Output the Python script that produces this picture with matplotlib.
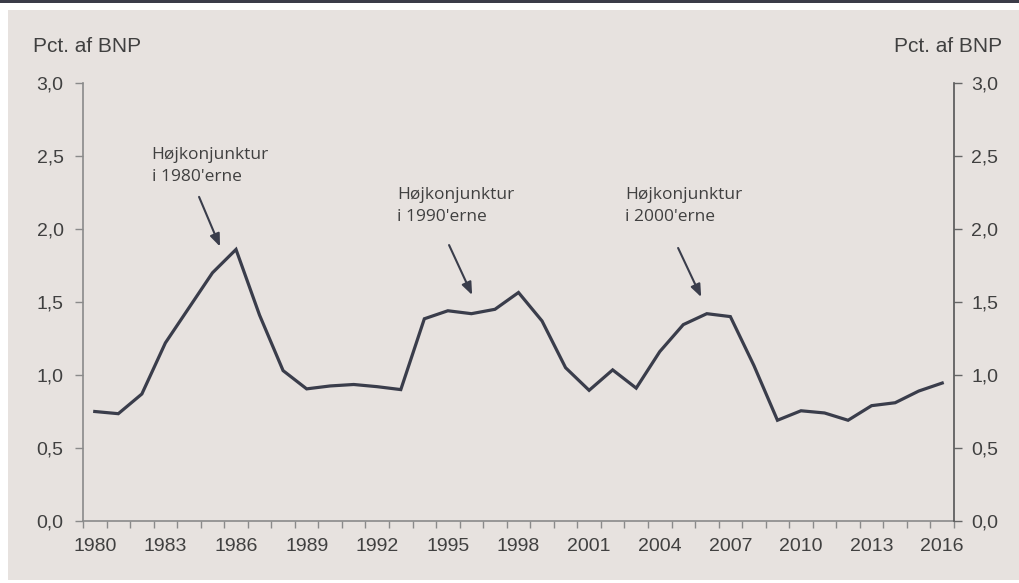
import matplotlib
matplotlib.use("Agg")
import matplotlib.pyplot as plt
from matplotlib.ticker import FixedLocator, NullFormatter, FuncFormatter

# Data: pct. of GDP, 1980-2016
years = list(range(1980, 2017))
values = [0.75, 0.735, 0.87, 1.22, 1.46, 1.70, 1.86, 1.41, 1.03, 0.905, 0.925, 0.935,
          0.92, 0.90, 1.385, 1.44, 1.42, 1.45, 1.565, 1.37, 1.05, 0.895, 1.035, 0.91,
          1.16, 1.345, 1.42, 1.40, 1.065, 0.69, 0.755, 0.74, 0.69, 0.79, 0.81, 0.89, 0.945]
yticks = [0.0, 0.5, 1.0, 1.5, 2.0, 2.5, 3.0]
label_years = list(range(1980, 2017, 3))

annotations = [
    ("Højkonjunktur\ni 1980'erne", 1986),
    ("Højkonjunktur\ni 1990'erne", 1996),
    ("Højkonjunktur\ni 2000'erne", 2006),
]

BG = "#e7e2df"
LINE = "#3a3d4b"
TXT = "#404040"
SPINE = "#8a8a8a"

fig = plt.figure(figsize=(10.2, 5.83), dpi=100)
fig.patch.set_facecolor("white")

# framing: dark top rule and grey panel
fig.add_artist(plt.Rectangle((0, 1 - 3 / 583), 1, 3 / 583, transform=fig.transFigure,
                             color="#3b3c48", lw=0, zorder=0))
fig.add_artist(plt.Rectangle((8 / 1020, 3 / 583), 1 - 8 / 1020, 1 - 13 / 583,
                             transform=fig.transFigure, color=BG, lw=0, zorder=0))

ax = fig.add_axes([83 / 1020, 1 - 521 / 583, (954 - 83) / 1020, (521 - 83) / 583])
ax.set_facecolor("none")

idx = list(range(len(years)))
ax.plot(idx, values, color=LINE, lw=2.3, solid_joinstyle="miter", zorder=3)

ax.set_xlim(-0.5, len(years) - 0.5)
ax.set_ylim(0, 3.0)

TICK_SIZE = 14

# x axis: tick marks at category boundaries, labels at centres
ax.xaxis.set_major_locator(FixedLocator([i - 0.5 for i in range(len(years) + 1)]))
ax.xaxis.set_major_formatter(NullFormatter())
ax.xaxis.set_minor_locator(FixedLocator([years.index(y) for y in label_years]))
ax.set_xticklabels([str(y) for y in label_years], minor=True,
                   family="Liberation Sans", size=TICK_SIZE, color=TXT)
ax.tick_params(axis="x", which="major", direction="out", length=5, width=1, color=SPINE)
ax.tick_params(axis="x", which="minor", length=0, pad=12)

fmt = FuncFormatter(lambda v, p: f"{v:.1f}".replace(".", ","))
ax.set_yticks(yticks)
ax.yaxis.set_major_formatter(fmt)
for lab in ax.get_yticklabels():
    lab.set_fontfamily("Liberation Sans")
    lab.set_fontsize(TICK_SIZE)
    lab.set_color(TXT)
ax.tick_params(axis="y", direction="out", length=6, width=1, color=SPINE, pad=8)

ax2 = ax.twinx()
ax2.set_ylim(0, 3.0)
ax2.set_yticks(yticks)
ax2.yaxis.set_major_formatter(fmt)
for lab in ax2.get_yticklabels():
    lab.set_fontfamily("Liberation Sans")
    lab.set_fontsize(TICK_SIZE)
    lab.set_color(TXT)
ax2.tick_params(axis="y", direction="out", length=6, width=1, color="#666666", pad=6.5)

for a in (ax, ax2):
    a.spines["top"].set_visible(False)
ax.spines["right"].set_visible(False)
ax2.spines["left"].set_visible(False)
ax2.spines["bottom"].set_visible(False)
ax.spines["left"].set_color(SPINE)
ax.spines["bottom"].set_color(SPINE)
ax2.spines["right"].set_color("#555555")
for s in ("left", "bottom"):
    ax.spines[s].set_linewidth(1.2)
ax2.spines["right"].set_linewidth(1.2)

fig.text(33 / 1020, 1 - 52 / 583, "Pct. af BNP", ha="left", va="baseline",
         family="Liberation Sans", size=15, color=TXT)
fig.text(1002 / 1020, 1 - 52 / 583, "Pct. af BNP", ha="right", va="baseline",
         family="Liberation Sans", size=15, color=TXT)

# annotations: text placed up-left of the peak, arrow pointing to it
text_offsets = [(-3.58, 0.70), (-3.16, 0.865), (-3.48, 0.865)]
arrow_starts = [(-1.57, 0.36), (-0.95, 0.47), (-1.22, 0.45)]
arrow_ends = [(-0.68, 0.02), (0.03, 0.128), (-0.24, 0.114)]
for (txt, yr), (tx, ty), (sx, sy), (ex, ey) in zip(annotations, text_offsets, arrow_starts, arrow_ends):
    i = years.index(yr)
    v = values[i]
    ax.text(i + tx, v + ty, txt, ha="left", va="top", family="Open Sans",
            size=12.5, color=TXT, linespacing=1.45)
    ax.annotate("", xy=(i + ex, v + ey), xytext=(i + sx, v + sy),
                arrowprops=dict(arrowstyle="-|>,head_length=0.75,head_width=0.3",
                                color=LINE, lw=1.5, shrinkA=0, shrinkB=0))

fig.savefig("out.png", dpi=100, facecolor=fig.get_facecolor())
